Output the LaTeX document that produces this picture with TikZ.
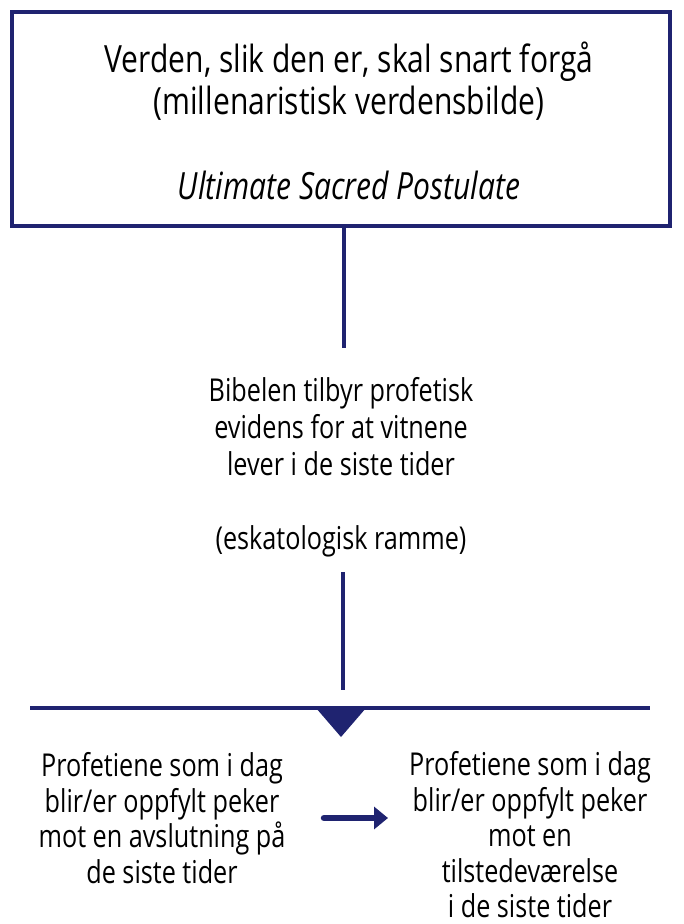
\documentclass[tikz,border=0pt]{standalone}
\usepackage{fontspec}
\setmainfont{Open Sans}[FakeStretch=0.8]
\usetikzlibrary{arrows.meta}
\definecolor{navy}{RGB}{31,35,112}
\tikzset{
  txt/.style={align=center, inner sep=0pt, text=black},
  conn/.style={draw=navy, line width=4pt},
}
\begin{document}
\begin{tikzpicture}[x=1pt,y=-1pt]
\useasboundingbox (0,0) rectangle (683,924);
% top box
\node[draw=navy, line width=4pt, minimum width=658pt, minimum height=214pt, inner sep=0pt] (box) at (341,119) {};
\node[txt, font=\fontsize{37.5}{42.5}\selectfont] (top) at (349,121) {Verden, slik den er, skal snart forgå\\(millenaristisk verdensbilde)\\[42.5pt]\textit{Ultimate Sacred Postulate}};
% middle
\node[txt, font=\fontsize{31.5}{37}\selectfont] (mid) at (341,467) {Bibelen tilbyr profetisk\\evidens for at vitnene\\ lever i de siste tider\\[37pt](eskatologisk ramme)};
\coordinate (l1end) at (344,348);
\coordinate (l2start) at (343,572);
\coordinate (l2end) at (343,690);
\draw[conn] (box.south -| l1end) -- (l1end);
\draw[conn] (l2start) -- (l2end);
% bar and triangle
\coordinate (barL) at (30,708);
\coordinate (barR) at (650,708);
\draw[conn] (barL) -- (barR);
\fill[navy] (316,708) -- (366,708) -- (341,737) -- cycle;
% bottom texts
\node[txt, font=\fontsize{31.5}{35.5}\selectfont] (left) at (162,818) {Profetiene som i dag\\blir/er oppfylt peker\\ mot en avslutning på\\de siste tider};
\node[txt, font=\fontsize{31.5}{35.5}\selectfont] (right) at (530,835) {Profetiene som i dag\\blir/er oppfylt peker\\mot en\\tilstedeværelse\\i de siste tider};
\coordinate (aS) at (324,818);
\coordinate (aE) at (388,818);
\draw[navy, line width=6.5pt, line cap=round, -{Triangle[length=14pt,width=22pt]}] (aS) -- (aE);
\end{tikzpicture}
\end{document}
